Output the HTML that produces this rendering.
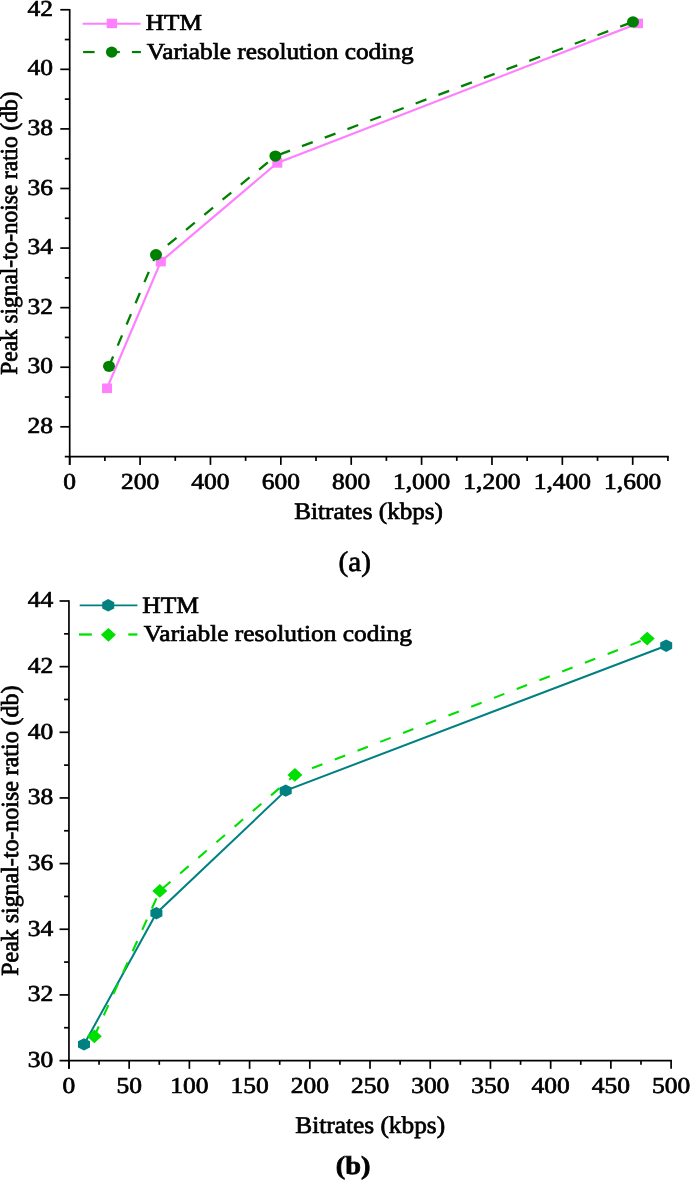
<!DOCTYPE html>
<html><head><meta charset="utf-8"><title>PSNR vs Bitrate</title>
<style>
html,body{margin:0;padding:0;background:#fff;overflow:hidden;}
svg{display:block;}
text{font-family:'Liberation Serif', 'Times New Roman', serif;fill:#000;}
</style></head>
<body>
<svg width="690" height="1181" viewBox="0 0 690 1181">
<rect width="690" height="1181" fill="#fff"/>
<line x1="69.70" y1="8.90" x2="69.70" y2="464.90" stroke="#000" stroke-width="1.7"/>
<line x1="64.80" y1="456.60" x2="668.75" y2="456.60" stroke="#000" stroke-width="1.7"/>
<line x1="60.30" y1="426.81" x2="69.70" y2="426.81" stroke="#000" stroke-width="1.7"/>
<text transform="translate(53.02,432.85) scale(1.1190,1)" font-size="22.75" text-anchor="end" text-rendering="geometricPrecision" stroke="#000" stroke-width="0.7">28</text>
<line x1="64.80" y1="397.02" x2="69.70" y2="397.02" stroke="#000" stroke-width="1.7"/>
<line x1="60.30" y1="367.23" x2="69.70" y2="367.23" stroke="#000" stroke-width="1.7"/>
<text transform="translate(53.02,373.27) scale(1.1190,1)" font-size="22.75" text-anchor="end" text-rendering="geometricPrecision" stroke="#000" stroke-width="0.7">30</text>
<line x1="64.80" y1="337.44" x2="69.70" y2="337.44" stroke="#000" stroke-width="1.7"/>
<line x1="60.30" y1="307.65" x2="69.70" y2="307.65" stroke="#000" stroke-width="1.7"/>
<text transform="translate(53.02,313.69) scale(1.1190,1)" font-size="22.75" text-anchor="end" text-rendering="geometricPrecision" stroke="#000" stroke-width="0.7">32</text>
<line x1="64.80" y1="277.86" x2="69.70" y2="277.86" stroke="#000" stroke-width="1.7"/>
<line x1="60.30" y1="248.07" x2="69.70" y2="248.07" stroke="#000" stroke-width="1.7"/>
<text transform="translate(53.02,254.11) scale(1.1190,1)" font-size="22.75" text-anchor="end" text-rendering="geometricPrecision" stroke="#000" stroke-width="0.7">34</text>
<line x1="64.80" y1="218.28" x2="69.70" y2="218.28" stroke="#000" stroke-width="1.7"/>
<line x1="60.30" y1="188.49" x2="69.70" y2="188.49" stroke="#000" stroke-width="1.7"/>
<text transform="translate(53.02,194.53) scale(1.1190,1)" font-size="22.75" text-anchor="end" text-rendering="geometricPrecision" stroke="#000" stroke-width="0.7">36</text>
<line x1="64.80" y1="158.70" x2="69.70" y2="158.70" stroke="#000" stroke-width="1.7"/>
<line x1="60.30" y1="128.91" x2="69.70" y2="128.91" stroke="#000" stroke-width="1.7"/>
<text transform="translate(53.02,134.95) scale(1.1190,1)" font-size="22.75" text-anchor="end" text-rendering="geometricPrecision" stroke="#000" stroke-width="0.7">38</text>
<line x1="64.80" y1="99.12" x2="69.70" y2="99.12" stroke="#000" stroke-width="1.7"/>
<line x1="60.30" y1="69.33" x2="69.70" y2="69.33" stroke="#000" stroke-width="1.7"/>
<text transform="translate(53.02,75.37) scale(1.1190,1)" font-size="22.75" text-anchor="end" text-rendering="geometricPrecision" stroke="#000" stroke-width="0.7">40</text>
<line x1="64.80" y1="39.54" x2="69.70" y2="39.54" stroke="#000" stroke-width="1.7"/>
<line x1="60.30" y1="9.75" x2="69.70" y2="9.75" stroke="#000" stroke-width="1.7"/>
<text transform="translate(53.02,15.79) scale(1.1190,1)" font-size="22.75" text-anchor="end" text-rendering="geometricPrecision" stroke="#000" stroke-width="0.7">42</text>
<line x1="69.70" y1="456.60" x2="69.70" y2="464.90" stroke="#000" stroke-width="1.7"/>
<text transform="translate(69.70,488.82) scale(1.1190,1)" font-size="22.75" text-anchor="middle" text-rendering="geometricPrecision" stroke="#000" stroke-width="0.7">0</text>
<line x1="104.89" y1="456.60" x2="104.89" y2="460.90" stroke="#000" stroke-width="1.7"/>
<line x1="140.08" y1="456.60" x2="140.08" y2="464.90" stroke="#000" stroke-width="1.7"/>
<text transform="translate(140.08,488.82) scale(1.1190,1)" font-size="22.75" text-anchor="middle" text-rendering="geometricPrecision" stroke="#000" stroke-width="0.7">200</text>
<line x1="175.26" y1="456.60" x2="175.26" y2="460.90" stroke="#000" stroke-width="1.7"/>
<line x1="210.45" y1="456.60" x2="210.45" y2="464.90" stroke="#000" stroke-width="1.7"/>
<text transform="translate(210.45,488.82) scale(1.1190,1)" font-size="22.75" text-anchor="middle" text-rendering="geometricPrecision" stroke="#000" stroke-width="0.7">400</text>
<line x1="245.64" y1="456.60" x2="245.64" y2="460.90" stroke="#000" stroke-width="1.7"/>
<line x1="280.83" y1="456.60" x2="280.83" y2="464.90" stroke="#000" stroke-width="1.7"/>
<text transform="translate(280.83,488.82) scale(1.1190,1)" font-size="22.75" text-anchor="middle" text-rendering="geometricPrecision" stroke="#000" stroke-width="0.7">600</text>
<line x1="316.02" y1="456.60" x2="316.02" y2="460.90" stroke="#000" stroke-width="1.7"/>
<line x1="351.21" y1="456.60" x2="351.21" y2="464.90" stroke="#000" stroke-width="1.7"/>
<text transform="translate(351.21,488.82) scale(1.1190,1)" font-size="22.75" text-anchor="middle" text-rendering="geometricPrecision" stroke="#000" stroke-width="0.7">800</text>
<line x1="386.39" y1="456.60" x2="386.39" y2="460.90" stroke="#000" stroke-width="1.7"/>
<line x1="421.58" y1="456.60" x2="421.58" y2="464.90" stroke="#000" stroke-width="1.7"/>
<text transform="translate(421.58,488.82) scale(1.1190,1)" font-size="22.75" text-anchor="middle" text-rendering="geometricPrecision" stroke="#000" stroke-width="0.7">1,000</text>
<line x1="456.77" y1="456.60" x2="456.77" y2="460.90" stroke="#000" stroke-width="1.7"/>
<line x1="491.96" y1="456.60" x2="491.96" y2="464.90" stroke="#000" stroke-width="1.7"/>
<text transform="translate(491.96,488.82) scale(1.1190,1)" font-size="22.75" text-anchor="middle" text-rendering="geometricPrecision" stroke="#000" stroke-width="0.7">1,200</text>
<line x1="527.15" y1="456.60" x2="527.15" y2="460.90" stroke="#000" stroke-width="1.7"/>
<line x1="562.34" y1="456.60" x2="562.34" y2="464.90" stroke="#000" stroke-width="1.7"/>
<text transform="translate(562.34,488.82) scale(1.1190,1)" font-size="22.75" text-anchor="middle" text-rendering="geometricPrecision" stroke="#000" stroke-width="0.7">1,400</text>
<line x1="597.52" y1="456.60" x2="597.52" y2="460.90" stroke="#000" stroke-width="1.7"/>
<line x1="632.71" y1="456.60" x2="632.71" y2="464.90" stroke="#000" stroke-width="1.7"/>
<text transform="translate(632.71,488.82) scale(1.1190,1)" font-size="22.75" text-anchor="middle" text-rendering="geometricPrecision" stroke="#000" stroke-width="0.7">1,600</text>
<line x1="667.90" y1="456.60" x2="667.90" y2="460.90" stroke="#000" stroke-width="1.7"/>
<polyline points="107,388.3 160.8,261.6 277.3,162.9 638,23.4" fill="none" stroke="#FF80FF" stroke-width="2.2"/>
<line x1="109" y1="366.3" x2="156" y2="254.7" stroke="#008000" stroke-width="2.3" stroke-dasharray="11.2 11.77" stroke-dashoffset="0.57"/>
<line x1="156" y1="254.7" x2="275.4" y2="156.1" stroke="#008000" stroke-width="2.3" stroke-dasharray="11.3 12.38" stroke-dashoffset="8.38"/>
<line x1="275.4" y1="156.1" x2="633" y2="21.9" stroke="#008000" stroke-width="2.3" stroke-dasharray="11.5 12.78" stroke-dashoffset="20.16"/>
<rect x="102" y="383.5" width="10" height="9.6" fill="#FF80FF"/>
<rect x="155.8" y="256.8" width="10" height="9.6" fill="#FF80FF"/>
<rect x="272.3" y="158.1" width="10" height="9.6" fill="#FF80FF"/>
<rect x="633" y="18.599999999999998" width="10" height="9.6" fill="#FF80FF"/>
<ellipse cx="109" cy="366.3" rx="6.0" ry="5.65" fill="#008000"/>
<ellipse cx="156" cy="254.7" rx="6.0" ry="5.65" fill="#008000"/>
<ellipse cx="275.4" cy="156.1" rx="6.0" ry="5.65" fill="#008000"/>
<ellipse cx="633" cy="21.9" rx="6.0" ry="5.65" fill="#008000"/>
<line x1="82.60" y1="23.80" x2="140.60" y2="23.80" stroke="#FF80FF" stroke-width="2.1"/>
<rect x="106.7" y="18.7" width="10.4" height="9.5" fill="#FF80FF"/>
<line x1="83.10" y1="52.05" x2="94.60" y2="52.05" stroke="#008000" stroke-width="2.2"/>
<line x1="108.00" y1="52.05" x2="119.80" y2="52.05" stroke="#008000" stroke-width="2.2"/>
<line x1="131.90" y1="52.05" x2="140.90" y2="52.05" stroke="#008000" stroke-width="2.2"/>
<ellipse cx="111.7" cy="52.1" rx="5.8" ry="5.6" fill="#008000"/>
<text transform="translate(145.76,30.35) scale(1.1065,1)" font-size="22.82" text-anchor="start" text-rendering="geometricPrecision" stroke="#000" stroke-width="0.7">HTM</text>
<text transform="translate(146.71,59.05) scale(1.1025,1)" font-size="22.95" text-anchor="start" text-rendering="geometricPrecision" stroke="#000" stroke-width="0.7">Variable resolution coding</text>
<text transform="translate(368.64,519.31) scale(1.0599,1)" font-size="23.72" text-anchor="middle" text-rendering="geometricPrecision" stroke="#000" stroke-width="0.7">Bitrates (kbps)</text>
<text transform="translate(354.72,570.59) scale(1.0244,1)" font-size="28.47" text-anchor="middle" text-rendering="geometricPrecision" stroke="#000" stroke-width="0.7">(a)</text>
<text transform="translate(17.27,233.09) rotate(-90) scale(1,1.0248)" font-size="23.80" text-anchor="middle" text-rendering="geometricPrecision" textLength="283.09517102082435" lengthAdjust="spacingAndGlyphs" stroke="#000" stroke-width="0.7">Peak signal-to-noise ratio (db)</text>
<line x1="68.95" y1="600.15" x2="68.95" y2="1068.85" stroke="#000" stroke-width="1.7"/>
<line x1="59.55" y1="1060.55" x2="671.95" y2="1060.55" stroke="#000" stroke-width="1.7"/>
<text transform="translate(53.12,1066.93) scale(1.1190,1)" font-size="22.75" text-anchor="end" text-rendering="geometricPrecision" stroke="#000" stroke-width="0.7">30</text>
<line x1="64.05" y1="1027.72" x2="68.95" y2="1027.72" stroke="#000" stroke-width="1.7"/>
<line x1="59.55" y1="994.90" x2="68.95" y2="994.90" stroke="#000" stroke-width="1.7"/>
<text transform="translate(53.12,1001.28) scale(1.1190,1)" font-size="22.75" text-anchor="end" text-rendering="geometricPrecision" stroke="#000" stroke-width="0.7">32</text>
<line x1="64.05" y1="962.07" x2="68.95" y2="962.07" stroke="#000" stroke-width="1.7"/>
<line x1="59.55" y1="929.25" x2="68.95" y2="929.25" stroke="#000" stroke-width="1.7"/>
<text transform="translate(53.12,935.63) scale(1.1190,1)" font-size="22.75" text-anchor="end" text-rendering="geometricPrecision" stroke="#000" stroke-width="0.7">34</text>
<line x1="64.05" y1="896.42" x2="68.95" y2="896.42" stroke="#000" stroke-width="1.7"/>
<line x1="59.55" y1="863.60" x2="68.95" y2="863.60" stroke="#000" stroke-width="1.7"/>
<text transform="translate(53.12,869.98) scale(1.1190,1)" font-size="22.75" text-anchor="end" text-rendering="geometricPrecision" stroke="#000" stroke-width="0.7">36</text>
<line x1="64.05" y1="830.77" x2="68.95" y2="830.77" stroke="#000" stroke-width="1.7"/>
<line x1="59.55" y1="797.95" x2="68.95" y2="797.95" stroke="#000" stroke-width="1.7"/>
<text transform="translate(53.12,804.33) scale(1.1190,1)" font-size="22.75" text-anchor="end" text-rendering="geometricPrecision" stroke="#000" stroke-width="0.7">38</text>
<line x1="64.05" y1="765.12" x2="68.95" y2="765.12" stroke="#000" stroke-width="1.7"/>
<line x1="59.55" y1="732.30" x2="68.95" y2="732.30" stroke="#000" stroke-width="1.7"/>
<text transform="translate(53.12,738.68) scale(1.1190,1)" font-size="22.75" text-anchor="end" text-rendering="geometricPrecision" stroke="#000" stroke-width="0.7">40</text>
<line x1="64.05" y1="699.47" x2="68.95" y2="699.47" stroke="#000" stroke-width="1.7"/>
<line x1="59.55" y1="666.65" x2="68.95" y2="666.65" stroke="#000" stroke-width="1.7"/>
<text transform="translate(53.12,673.03) scale(1.1190,1)" font-size="22.75" text-anchor="end" text-rendering="geometricPrecision" stroke="#000" stroke-width="0.7">42</text>
<line x1="64.05" y1="633.82" x2="68.95" y2="633.82" stroke="#000" stroke-width="1.7"/>
<line x1="59.55" y1="601.00" x2="68.95" y2="601.00" stroke="#000" stroke-width="1.7"/>
<text transform="translate(53.12,607.38) scale(1.1190,1)" font-size="22.75" text-anchor="end" text-rendering="geometricPrecision" stroke="#000" stroke-width="0.7">44</text>
<line x1="68.95" y1="1060.55" x2="68.95" y2="1068.85" stroke="#000" stroke-width="1.7"/>
<text transform="translate(68.95,1093.43) scale(1.1190,1)" font-size="22.75" text-anchor="middle" text-rendering="geometricPrecision" stroke="#000" stroke-width="0.7">0</text>
<line x1="99.06" y1="1060.55" x2="99.06" y2="1064.85" stroke="#000" stroke-width="1.7"/>
<line x1="129.16" y1="1060.55" x2="129.16" y2="1068.85" stroke="#000" stroke-width="1.7"/>
<text transform="translate(129.16,1093.43) scale(1.1190,1)" font-size="22.75" text-anchor="middle" text-rendering="geometricPrecision" stroke="#000" stroke-width="0.7">50</text>
<line x1="159.27" y1="1060.55" x2="159.27" y2="1064.85" stroke="#000" stroke-width="1.7"/>
<line x1="189.38" y1="1060.55" x2="189.38" y2="1068.85" stroke="#000" stroke-width="1.7"/>
<text transform="translate(189.38,1093.43) scale(1.1190,1)" font-size="22.75" text-anchor="middle" text-rendering="geometricPrecision" stroke="#000" stroke-width="0.7">100</text>
<line x1="219.49" y1="1060.55" x2="219.49" y2="1064.85" stroke="#000" stroke-width="1.7"/>
<line x1="249.59" y1="1060.55" x2="249.59" y2="1068.85" stroke="#000" stroke-width="1.7"/>
<text transform="translate(249.59,1093.43) scale(1.1190,1)" font-size="22.75" text-anchor="middle" text-rendering="geometricPrecision" stroke="#000" stroke-width="0.7">150</text>
<line x1="279.70" y1="1060.55" x2="279.70" y2="1064.85" stroke="#000" stroke-width="1.7"/>
<line x1="309.81" y1="1060.55" x2="309.81" y2="1068.85" stroke="#000" stroke-width="1.7"/>
<text transform="translate(309.81,1093.43) scale(1.1190,1)" font-size="22.75" text-anchor="middle" text-rendering="geometricPrecision" stroke="#000" stroke-width="0.7">200</text>
<line x1="339.92" y1="1060.55" x2="339.92" y2="1064.85" stroke="#000" stroke-width="1.7"/>
<line x1="370.02" y1="1060.55" x2="370.02" y2="1068.85" stroke="#000" stroke-width="1.7"/>
<text transform="translate(370.02,1093.43) scale(1.1190,1)" font-size="22.75" text-anchor="middle" text-rendering="geometricPrecision" stroke="#000" stroke-width="0.7">250</text>
<line x1="400.13" y1="1060.55" x2="400.13" y2="1064.85" stroke="#000" stroke-width="1.7"/>
<line x1="430.24" y1="1060.55" x2="430.24" y2="1068.85" stroke="#000" stroke-width="1.7"/>
<text transform="translate(430.24,1093.43) scale(1.1190,1)" font-size="22.75" text-anchor="middle" text-rendering="geometricPrecision" stroke="#000" stroke-width="0.7">300</text>
<line x1="460.35" y1="1060.55" x2="460.35" y2="1064.85" stroke="#000" stroke-width="1.7"/>
<line x1="490.45" y1="1060.55" x2="490.45" y2="1068.85" stroke="#000" stroke-width="1.7"/>
<text transform="translate(490.45,1093.43) scale(1.1190,1)" font-size="22.75" text-anchor="middle" text-rendering="geometricPrecision" stroke="#000" stroke-width="0.7">350</text>
<line x1="520.56" y1="1060.55" x2="520.56" y2="1064.85" stroke="#000" stroke-width="1.7"/>
<line x1="550.67" y1="1060.55" x2="550.67" y2="1068.85" stroke="#000" stroke-width="1.7"/>
<text transform="translate(550.67,1093.43) scale(1.1190,1)" font-size="22.75" text-anchor="middle" text-rendering="geometricPrecision" stroke="#000" stroke-width="0.7">400</text>
<line x1="580.78" y1="1060.55" x2="580.78" y2="1064.85" stroke="#000" stroke-width="1.7"/>
<line x1="610.88" y1="1060.55" x2="610.88" y2="1068.85" stroke="#000" stroke-width="1.7"/>
<text transform="translate(610.88,1093.43) scale(1.1190,1)" font-size="22.75" text-anchor="middle" text-rendering="geometricPrecision" stroke="#000" stroke-width="0.7">450</text>
<line x1="640.99" y1="1060.55" x2="640.99" y2="1064.85" stroke="#000" stroke-width="1.7"/>
<line x1="671.10" y1="1060.55" x2="671.10" y2="1068.85" stroke="#000" stroke-width="1.7"/>
<text transform="translate(671.10,1093.43) scale(1.1190,1)" font-size="22.75" text-anchor="middle" text-rendering="geometricPrecision" stroke="#000" stroke-width="0.7">500</text>
<polyline points="84.0,1044.4 156.4,913.2 285.7,790.6 666.2,645.7" fill="none" stroke="#008080" stroke-width="2.0"/>
<line x1="94.35" y1="1036.3" x2="159.8" y2="890.9" stroke="#00E000" stroke-width="2.1" stroke-dasharray="11.2 12.22" stroke-dashoffset="0.42"/>
<line x1="159.8" y1="890.9" x2="294.9" y2="774.9" stroke="#00E000" stroke-width="2.1" stroke-dasharray="11.2 12.76" stroke-dashoffset="21.13"/>
<line x1="294.9" y1="774.9" x2="647.2" y2="638.6" stroke="#00E000" stroke-width="2.1" stroke-dasharray="11.1 13.28" stroke-dashoffset="5.98"/>
<polygon points="84.00,1038.20 90.00,1041.30 90.00,1047.50 84.00,1050.60 78.00,1047.50 78.00,1041.30" fill="#008080"/>
<polygon points="156.40,907.00 162.40,910.10 162.40,916.30 156.40,919.40 150.40,916.30 150.40,910.10" fill="#008080"/>
<polygon points="285.70,784.40 291.70,787.50 291.70,793.70 285.70,796.80 279.70,793.70 279.70,787.50" fill="#008080"/>
<polygon points="666.20,639.50 672.20,642.60 672.20,648.80 666.20,651.90 660.20,648.80 660.20,642.60" fill="#008080"/>
<polygon points="94.35,1029.3999999999999 101.85,1036.3 94.35,1043.2 86.85,1036.3" fill="#00E000"/>
<polygon points="159.8,884.0 167.3,890.9 159.8,897.8 152.3,890.9" fill="#00E000"/>
<polygon points="294.9,768.0 302.4,774.9 294.9,781.8 287.4,774.9" fill="#00E000"/>
<polygon points="647.2,631.7 654.7,638.6 647.2,645.5 639.7,638.6" fill="#00E000"/>
<line x1="79.70" y1="605.30" x2="137.40" y2="605.30" stroke="#008080" stroke-width="1.8"/>
<polygon points="108.20,599.10 114.20,602.20 114.20,608.40 108.20,611.50 102.20,608.40 102.20,602.20" fill="#008080"/>
<line x1="79.00" y1="634.50" x2="91.80" y2="634.50" stroke="#00E000" stroke-width="2.3"/>
<line x1="103.00" y1="634.50" x2="114.00" y2="634.50" stroke="#00E000" stroke-width="2.3"/>
<line x1="128.30" y1="634.50" x2="137.40" y2="634.50" stroke="#00E000" stroke-width="2.3"/>
<polygon points="108.4,627.9 115.9,634.8 108.4,641.6999999999999 100.9,634.8" fill="#00E000"/>
<text transform="translate(142.25,613.46) scale(1.0900,1)" font-size="23.40" text-anchor="start" text-rendering="geometricPrecision" stroke="#000" stroke-width="0.7">HTM</text>
<text transform="translate(143.83,641.42) scale(1.1147,1)" font-size="22.80" text-anchor="start" text-rendering="geometricPrecision" stroke="#000" stroke-width="0.7">Variable resolution coding</text>
<text transform="translate(370.24,1133.33) scale(1.0513,1)" font-size="24.09" text-anchor="middle" text-rendering="geometricPrecision" stroke="#000" stroke-width="0.7">Bitrates (kbps)</text>
<text transform="translate(353.02,1174.29) scale(1.1041,1)" font-size="25.74" text-anchor="middle" text-rendering="geometricPrecision" font-weight="bold" stroke="#000" stroke-width="0.7">(b)</text>
<text transform="translate(17.52,830.68) rotate(-90) scale(1,1.0331)" font-size="23.80" text-anchor="middle" text-rendering="geometricPrecision" textLength="290.1929573441226" lengthAdjust="spacingAndGlyphs" stroke="#000" stroke-width="0.7">Peak signal-to-noise ratio (db)</text>
</svg>
</body></html>
